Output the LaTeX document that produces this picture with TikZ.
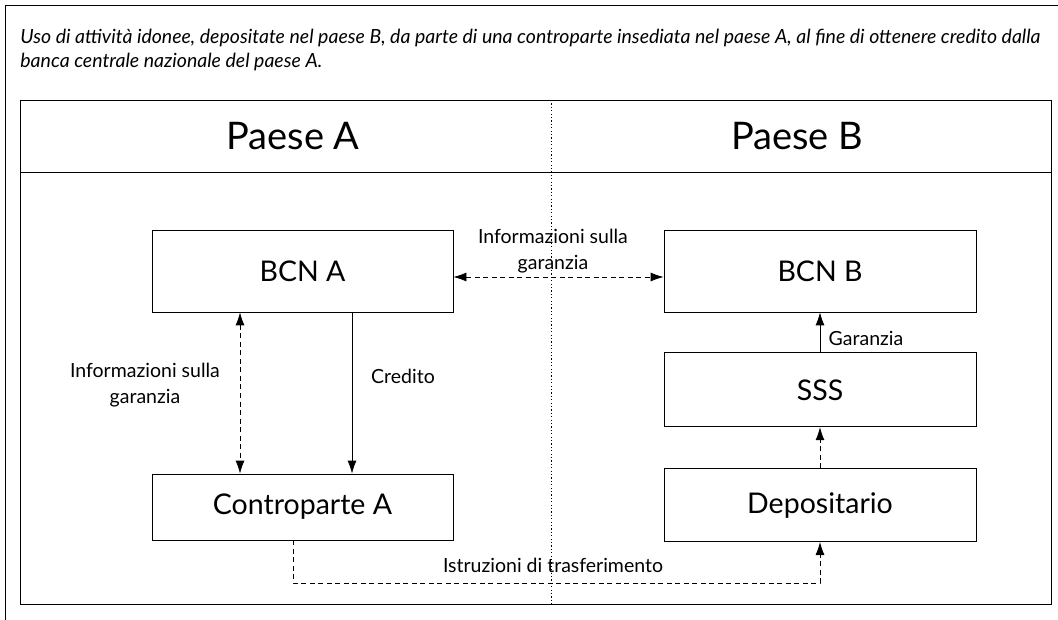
\documentclass[tikz,border=0pt]{standalone}
\usepackage{fontspec}
\setmainfont{Lato}
\usetikzlibrary{positioning}
\usetikzlibrary{arrows.meta}

\tikzset{
    box/.style={draw, line width=0.8pt, minimum width=301pt, font=\fontsize{28.5}{34}\selectfont},
    lbl/.style={font=\fontsize{19.5}{26}\selectfont, align=center},
    tip/.style={-{Latex[length=13pt,width=9pt]}},
    dtip/.style={{Latex[length=13pt,width=9pt]}-{Latex[length=13pt,width=9pt]}},
    dash6/.style={dash pattern=on 5pt off 3.5pt},
}

\begin{document}
\begin{tikzpicture}[x=1pt, y=-1pt, line width=0.8pt]
    \useasboundingbox (0,0) rectangle (1058,620);
    % outer frame, only top and left visible
    \draw (1058,5) -- (5,5) -- (5,620);
    \node(title) [anchor=north west, align=left, inner sep=0pt,
        font=\itshape\fontsize{19.5}{24}\selectfont] at (20,29)
        {Uso di attività idonee, depositate nel paese B, da parte di una controparte insediata nel paese A, al fine di ottenere credito dalla\\
         banca centrale nazionale del paese A.};
    % inner frame
    \draw (20,100) rectangle (1051,604);
    \draw (20,172) -- (1051,172);
    \draw[dash pattern=on 1.2pt off 2.2pt] (551,100) -- (551,604);
    \node(pA) [font=\fontsize{38}{44}\selectfont] at (293,136) {Paese A};
    \node(pB) [font=\fontsize{38}{44}\selectfont] at (797,136) {Paese B};

    % boxes
    \node(bcnA) [box, minimum height=82pt] at (302.5,271) {BCN A};
    \node(cpA)  [box, minimum height=66pt] at (302.5,507) {Controparte A};
    \node(bcnB) [box, minimum width=312pt, minimum height=82pt] at (820,271) {BCN B};
    \node(sss)  [box, minimum width=312pt, minimum height=74pt, below=40pt of bcnB] {SSS};
    \node(dep)  [box, minimum width=312pt, minimum height=73pt, below=41pt of sss] {Depositario};

    % connectors
    \draw[dtip, dash6] ([yshift=-6pt]bcnA.east) -- ([yshift=-6pt]bcnB.west);
    \node(infoAB) [lbl] at (553,251) {Informazioni sulla\\garanzia};
    \draw[dtip, dash6] ([xshift=-62.5pt]bcnA.south) -- ([xshift=-62.5pt]cpA.north);
    \node(infoA) [lbl] at (145,385) {Informazioni sulla\\garanzia};
    \draw[tip] ([xshift=49.5pt]bcnA.south) -- ([xshift=49.5pt]cpA.north);
    \node(cred) [lbl] at (403,376) {Credito};
    \draw[tip] (sss) -- (bcnB);
    \node(gar) [lbl, anchor=west] at (825,338) {Garanzia};
    \draw[tip, dash6] (dep) -- (sss);
    \coordinate(corner) at (293,583);
    \draw[tip, dash6] ([xshift=-9.5pt]cpA.south) -- (corner) -| (dep.south);
    \node(istr) [lbl] at (553,565) {Istruzioni di trasferimento};
\end{tikzpicture}
\end{document}
